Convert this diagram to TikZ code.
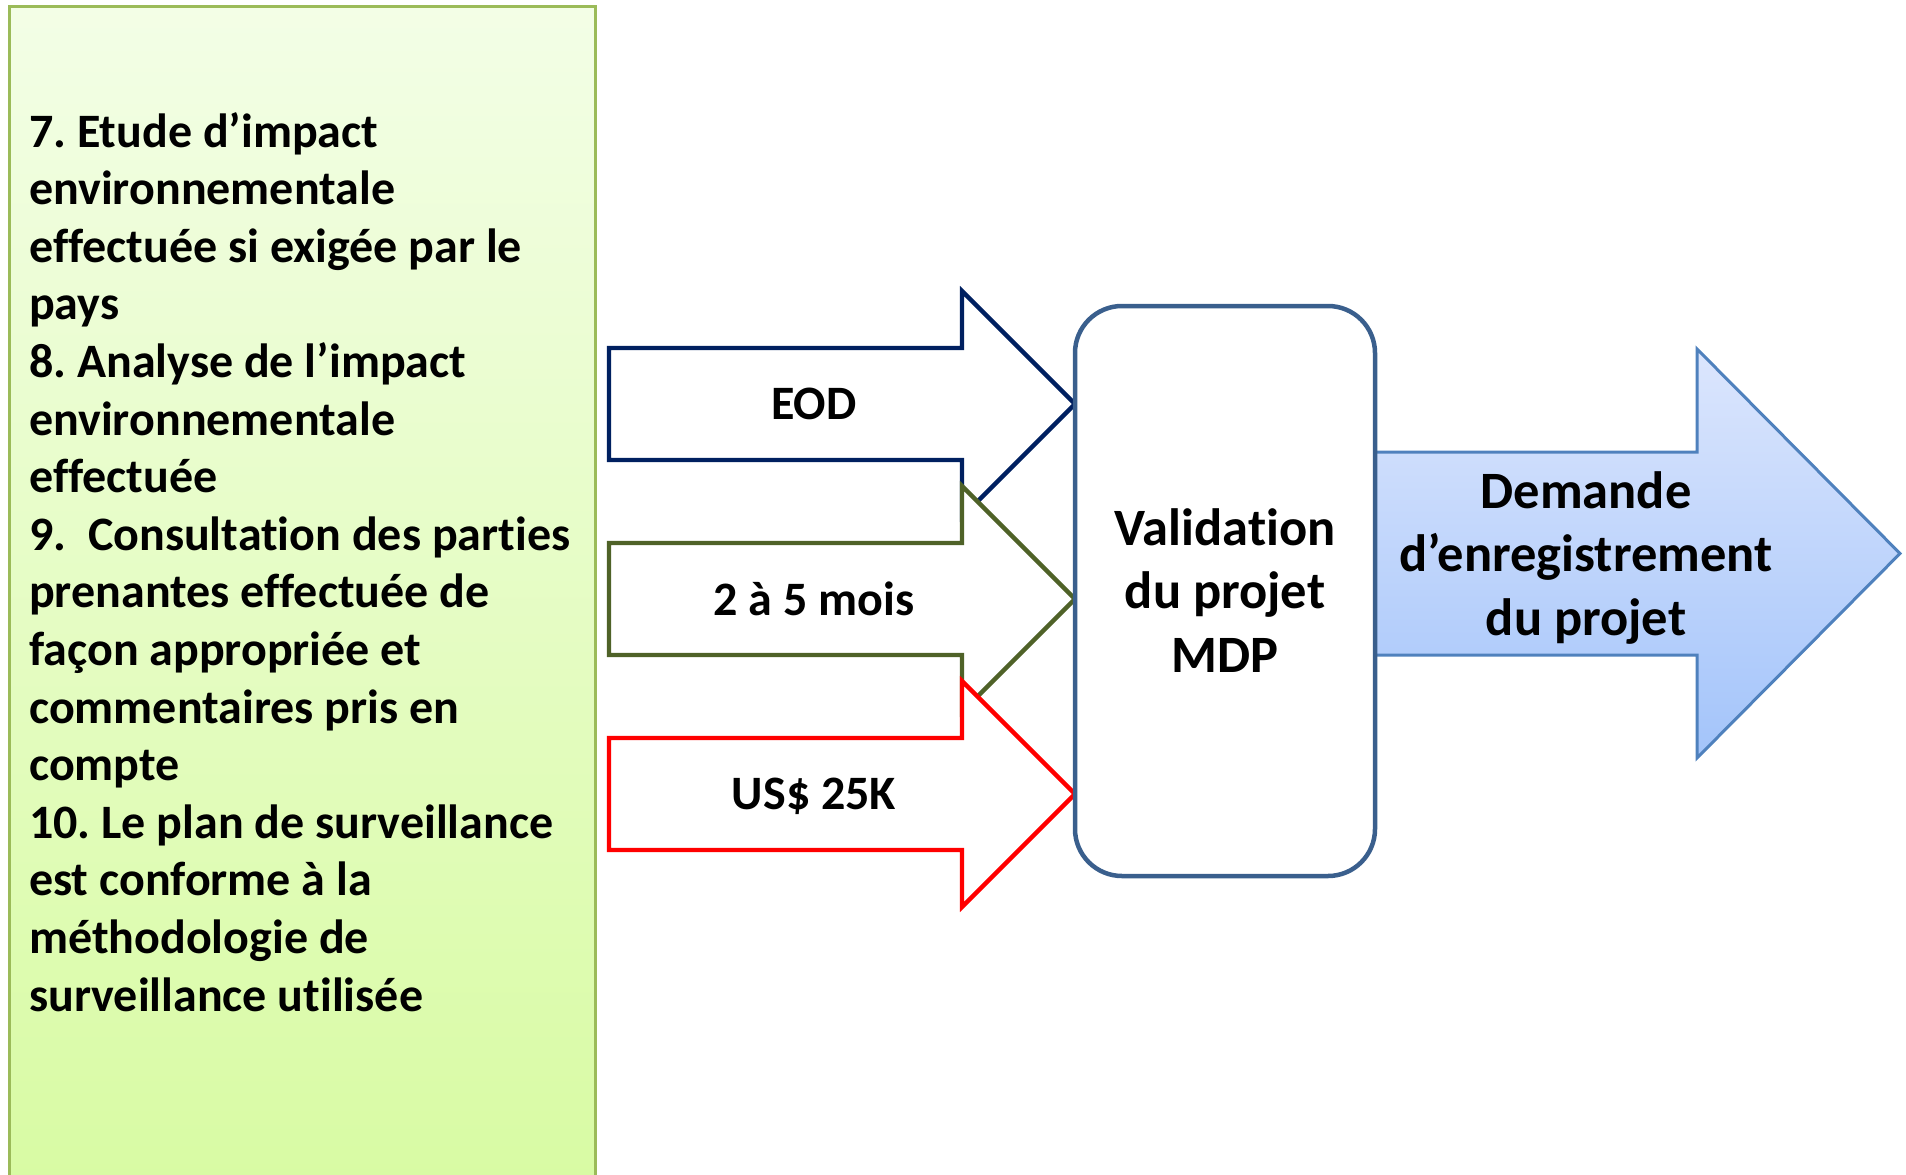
\documentclass[tikz,border=0pt]{standalone}
\usepackage{fontspec}
\setmainfont{Carlito}[Ligatures={NoCommon}]
\usepackage{tikz}
\usepackage{xcolor}
\frenchspacing

\definecolor{leafline}{HTML}{9BBB59}
\definecolor{leaftop}{HTML}{F3FEE6}
\definecolor{leafbottom}{HTML}{D8FBA3}
\definecolor{eodnavy}{HTML}{002060}
\definecolor{delaiolive}{HTML}{4F6228}
\definecolor{coutred}{HTML}{FF0000}
\definecolor{validline}{HTML}{3A5F8D}
\definecolor{demline}{HTML}{4F81BD}
\definecolor{demtop}{HTML}{DCE6FD}
\definecolor{dembottom}{HTML}{A3C4FA}

\begin{document}
\begin{tikzpicture}[
            x=1pt, y=-1pt,
            inarrow/.style={fill=white, line width=4.3pt},
            smalltext/.style={font=\bfseries\fontsize{48}{57.6}\selectfont, inner sep=0pt, anchor=base},
            bigtext/.style={font=\bfseries\fontsize{52.5}{63.5}\selectfont, inner sep=0pt, anchor=base, align=flush center, text width=420pt},
        ]
            \useasboundingbox (0,0) rectangle (1906,1175);

            % panneau des criteres
            \draw[draw=leafline, line width=3pt, top color=leaftop, bottom color=leafbottom] (9.5,6) rectangle (595,1190);
            \node[smalltext, anchor=base west, text width=570pt, align=flush left] (criteres) at (29,147) {%
                7. Etude d’impact\\
                environnementale\\
                effectuée si exigée par le\\
                pays\\
                8. Analyse de l’impact\\
                environnementale\\
                effectuée\\
                9.\ \ Consultation des parties\\
                prenantes effectuée de\\
                façon appropriée et\\
                commentaires pris en\\
                compte\\
                10. Le plan de surveillance\\
                est conforme à la\\
                méthodologie de\\
                surveillance utilisée};

            % fleches d'entree
            \draw[inarrow, draw=eodnavy] (609,348) -- (962,348) -- (962,291) -- (1075,404) -- (962,517) -- (962,460) -- (609,460) -- cycle;
            \draw[inarrow, draw=delaiolive] (609,543) -- (962,543) -- (962,486) -- (1075,599) -- (962,712) -- (962,655) -- (609,655) -- cycle;
            \draw[inarrow, draw=coutred] (609,738) -- (962,738) -- (962,681) -- (1075,794) -- (962,907) -- (962,850) -- (609,850) -- cycle;
            \node[smalltext] (eod) at (814,419) {EOD};
            \node[smalltext] (delai) at (814,615) {2 à 5 mois};
            \node[smalltext] (cout) at (814,809) {US\$ 25K};

            % fleche de sortie
            \draw[draw=demline, line width=3pt, top color=demtop, bottom color=dembottom] (1375,452) -- (1697,452) -- (1697,349) -- (1900,553.5) -- (1697,758) -- (1697,655) -- (1375,655) -- cycle;
            \node[bigtext] (demande) at (1586,508) {Demande\\d’enregistrement\\du projet};

            % validation
            \draw[draw=validline, line width=4.5pt, fill=white, rounded corners=47pt] (1075,306) rectangle (1375,876);
            \node[bigtext] (validation) at (1225,545) {Validation\\du projet\\MDP};
        \end{tikzpicture}
\end{document}
